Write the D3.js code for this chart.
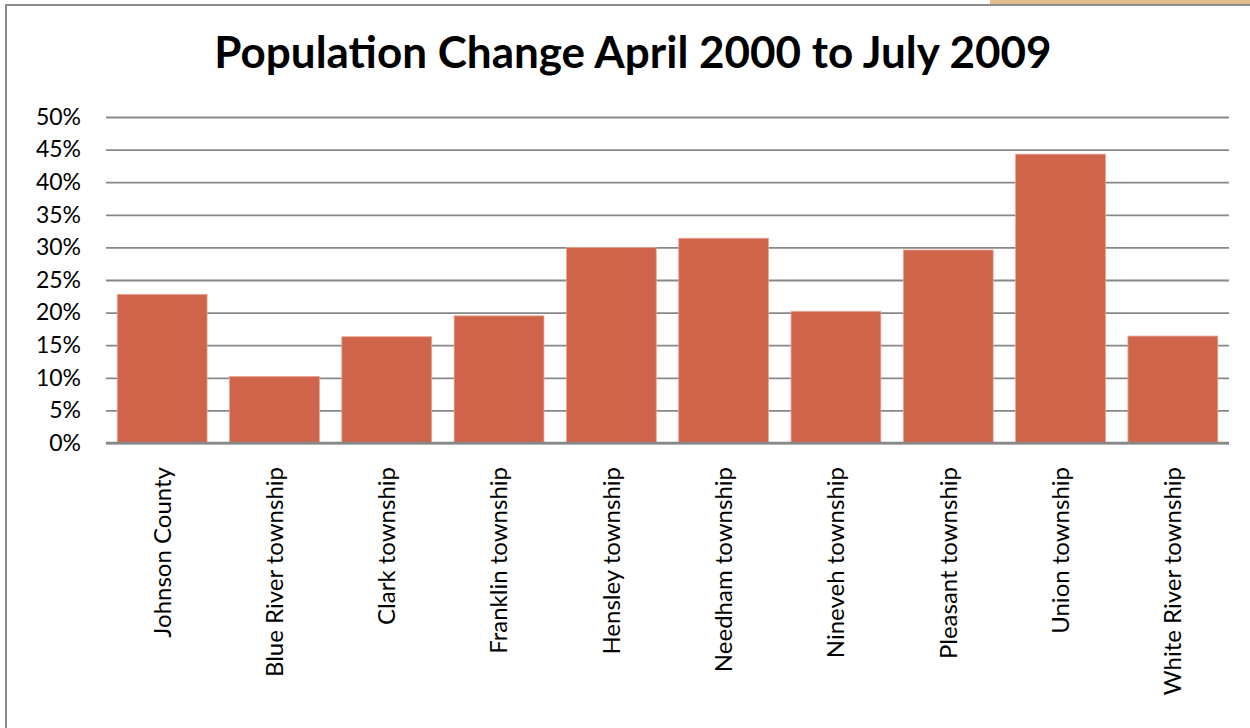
<!DOCTYPE html>
<html>
<head>
<meta charset="utf-8">
<script src="https://cdn.jsdelivr.net/npm/d3@7"></script>
<style>
  html, body { margin: 0; padding: 0; background: #fff; }
  svg { display: block; }
  text { font-family: Lato, "Noto Sans", sans-serif; fill: #000; }
</style>
</head>
<body>
<svg id="chart" width="1250" height="728"></svg>
<script>
// Population change, April 2000 to July 2009
const categories = [
  "Johnson County", "Blue River township", "Clark township", "Franklin township",
  "Hensley township", "Needham township", "Nineveh township", "Pleasant township",
  "Union township", "White River township"
];
const changePct = [22.8, 10.2, 16.3, 19.5, 30.0, 31.4, 20.2, 29.6, 44.3, 16.4];
const yTicks = [0, 5, 10, 15, 20, 25, 30, 35, 40, 45, 50];
const title = "Population Change April 2000 to July 2009";

const data = categories.map((c, i) => ({ name: c, value: changePct[i] }));

const svg = d3.select("#chart");
const W = 1250, H = 728;
const plot = { left: 106, right: 1229, top: 117, bottom: 443 };

// chart frame: tab strip at the top right, top and left border lines
svg.append("rect").attr("x", 990).attr("y", 0).attr("width", W - 990).attr("height", 4.5)
  .attr("fill", "#E2BC8E");
svg.append("line").attr("x1", 5).attr("x2", W).attr("y1", 5).attr("y2", 5)
  .attr("stroke", "#8c8c8c").attr("stroke-width", 2);
svg.append("line").attr("x1", 6).attr("x2", 6).attr("y1", 4).attr("y2", H)
  .attr("stroke", "#8c8c8c").attr("stroke-width", 2);

const x = d3.scaleBand()
  .domain(categories)
  .range([plot.left, plot.right])
  .paddingInner(0.2)
  .paddingOuter(0.1);

const y = d3.scaleLinear()
  .domain([0, 50])
  .range([plot.bottom, plot.top]);

// horizontal gridlines with percentage labels
const yAxis = d3.axisLeft(y)
  .tickValues(yTicks)
  .tickSize(-(plot.right - plot.left))
  .tickPadding(25)
  .tickFormat(d => d + "%");

const gy = svg.append("g")
  .attr("transform", `translate(${plot.left},0)`)
  .call(yAxis);
gy.select(".domain").remove();
gy.selectAll(".tick line").attr("stroke", "#878787").attr("stroke-width", 1.8);
gy.selectAll(".tick text")
  .attr("font-size", 23)
  .attr("font-family", "Lato, 'Noto Sans', sans-serif")
  .attr("fill", "#000");

// bars
svg.append("g").selectAll("rect")
  .data(data)
  .join("rect")
  .attr("x", d => x(d.name))
  .attr("width", x.bandwidth())
  .attr("y", d => y(d.value))
  .attr("height", d => y(0) - y(d.value))
  .attr("fill", "#D0644A")
  .attr("stroke", "#E8A592")
  .attr("stroke-width", 0.8);

// category axis with rotated labels
const xAxis = d3.axisBottom(x).tickSize(0).tickPadding(0);
const gx = svg.append("g")
  .attr("transform", `translate(0,${plot.bottom})`)
  .call(xAxis);
gx.select(".domain")
  .attr("d", `M${plot.left},0H${plot.right}`)
  .attr("stroke", "#878787").attr("stroke-width", 2.4);
gx.selectAll(".tick text")
  .attr("font-size", 24)
  .attr("font-family", "Lato, 'Noto Sans', sans-serif")
  .attr("fill", "#000")
  .attr("text-anchor", "end")
  .attr("transform", "rotate(-90)")
  .attr("x", -24)
  .attr("y", 0)
  .attr("dy", "0.35em");

// title
svg.append("text")
  .attr("x", 633)
  .attr("y", 68)
  .attr("text-anchor", "middle")
  .attr("font-size", 44)
  .attr("font-weight", "bold")
  .text(title);
</script>
</body>
</html>
